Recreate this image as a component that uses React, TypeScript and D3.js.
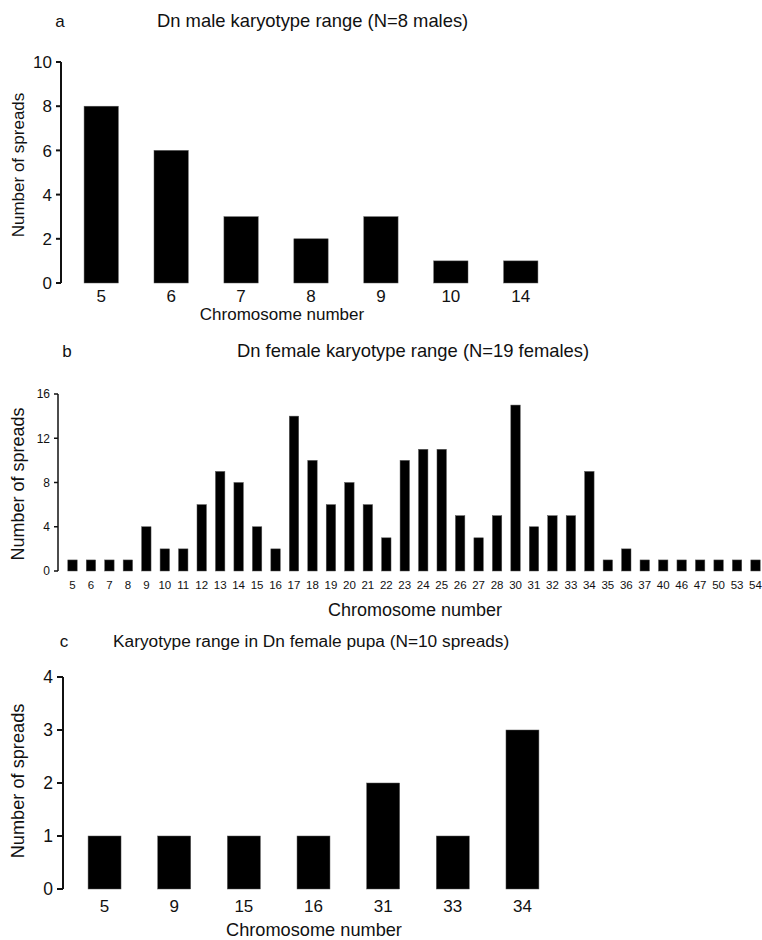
import React from 'react';
import * as d3 from 'd3';

// panel a: males
const maleChromosomes = ['5', '6', '7', '8', '9', '10', '14'];
const maleSpreads = [8, 6, 3, 2, 3, 1, 1];
const maleTicks = [0, 2, 4, 6, 8, 10];

// panel b: females
const femaleChromosomes = [
  '5', '6', '7', '8', '9', '10', '11', '12', '13', '14', '15', '16', '17', '18', '19', '20', '21', '22', '23',
  '24', '25', '26', '27', '28', '30', '31', '32', '33', '34', '35', '36', '37', '40', '46', '47', '50', '53', '54',
];
const femaleSpreads = [
  1, 1, 1, 1, 4, 2, 2, 6, 9, 8, 4, 2, 14, 10, 6, 8, 6, 3, 10,
  11, 11, 5, 3, 5, 15, 4, 5, 5, 9, 1, 2, 1, 1, 1, 1, 1, 1, 1,
];
const femaleTicks = [0, 4, 8, 12, 16];

// panel c: female pupa
const pupaChromosomes = ['5', '9', '15', '16', '31', '33', '34'];
const pupaSpreads = [1, 1, 1, 1, 2, 1, 3];
const pupaTicks = [0, 1, 2, 3, 4];

const FONT = '"Liberation Sans", Arial, Helvetica, sans-serif';
const INK = '#111';

type PanelProps = {
  letter: string;
  title: string;
  cats: string[];
  values: number[];
  ticks: number[];
  yMax: number;
  axisX: number;
  rangeEnd: number;
  yTop: number;
  yBottom: number;
  padInner: number;
  padOuter: number;
  tickLen: number;
  axisWidth: number;
  tickFont: number;
  xTickFont: number;
  labelFont: number;
  titleFont: number;
  letterX: number;
  titleX: number;
  titleY: number;
  xTickY: number;
  xLabelX: number;
  xLabelY: number;
  yLabelY: number;
};

const Panel = (p: PanelProps) => {
  const x = d3.scaleBand<string>()
    .domain(p.cats)
    .range([p.axisX, p.rangeEnd])
    .paddingInner(p.padInner)
    .paddingOuter(p.padOuter);
  const y = d3.scaleLinear().domain([0, p.yMax]).range([p.yBottom, p.yTop]);

  return (
    <g fontFamily={FONT} fill={INK}>
      <text x={p.letterX} y={p.titleY} fontSize={17} textAnchor="middle">{p.letter}</text>
      <text x={p.titleX} y={p.titleY} fontSize={p.titleFont}>{p.title}</text>

      {p.values.map((v, i) => (
        <rect key={i} x={x(p.cats[i])} y={y(v)} width={x.bandwidth()} height={y(0) - y(v)}
          fill="#000" stroke="#555" strokeWidth={0.5} />
      ))}

      <line x1={p.axisX} x2={p.axisX} y1={y(p.yMax)} y2={y(0)} stroke={INK} strokeWidth={p.axisWidth} />
      {p.ticks.map(t => (
        <g key={t}>
          <line x1={p.axisX - p.tickLen} x2={p.axisX} y1={y(t)} y2={y(t)} stroke={INK} strokeWidth={p.axisWidth} />
          <text x={p.axisX - p.tickLen - 4} y={y(t)} dy="0.36em" textAnchor="end" fontSize={p.tickFont}>{t}</text>
        </g>
      ))}

      {p.cats.map(c => (
        <text key={c} x={(x(c) as number) + x.bandwidth() / 2} y={p.xTickY} textAnchor="middle" fontSize={p.xTickFont}>{c}</text>
      ))}

      <text x={p.xLabelX} y={p.xLabelY} textAnchor="middle" fontSize={p.labelFont}>Chromosome number</text>
      <text transform={`translate(18,${p.yLabelY}) rotate(-90)`} textAnchor="middle" dominantBaseline="central"
        fontSize={p.labelFont}>Number of spreads</text>
    </g>
  );
};

const App = () => (
  <svg width={762} height={940} style={{ position: 'absolute', left: 0, top: 0, background: '#fff' }}>
    <Panel letter="a" title="Dn male karyotype range (N=8 males)"
      cats={maleChromosomes} values={maleSpreads} ticks={maleTicks} yMax={10}
      axisX={61} rangeEnd={561} yTop={62} yBottom={283} padInner={0.51} padOuter={0.33}
      tickLen={5} axisWidth={2} tickFont={17} xTickFont={17} labelFont={17} titleFont={18.4}
      letterX={60} titleX={157} titleY={27} xTickY={302} xLabelX={282} xLabelY={320} yLabelY={165} />
    <Panel letter="b" title="Dn female karyotype range (N=19 females)"
      cats={femaleChromosomes} values={femaleSpreads} ticks={femaleTicks} yMax={16}
      axisX={58} rangeEnd={770} yTop={394} yBottom={571} padInner={0.49} padOuter={0.53}
      tickLen={4} axisWidth={1.5} tickFont={12} xTickFont={11.5} labelFont={18} titleFont={18.4}
      letterX={67} titleX={237} titleY={357} xTickY={589} xLabelX={415} xLabelY={616} yLabelY={484} />
    <Panel letter="c" title="Karyotype range in Dn female pupa (N=10 spreads)"
      cats={pupaChromosomes} values={pupaSpreads} ticks={pupaTicks} yMax={4}
      axisX={63} rangeEnd={564} yTop={677} yBottom={889} padInner={0.527} padOuter={0.36}
      tickLen={6} axisWidth={2} tickFont={17.5} xTickFont={17} labelFont={18.2} titleFont={17.3}
      letterX={64} titleX={113} titleY={647} xTickY={912} xLabelX={314} xLabelY={936} yLabelY={781} />
  </svg>
);

export default App;
